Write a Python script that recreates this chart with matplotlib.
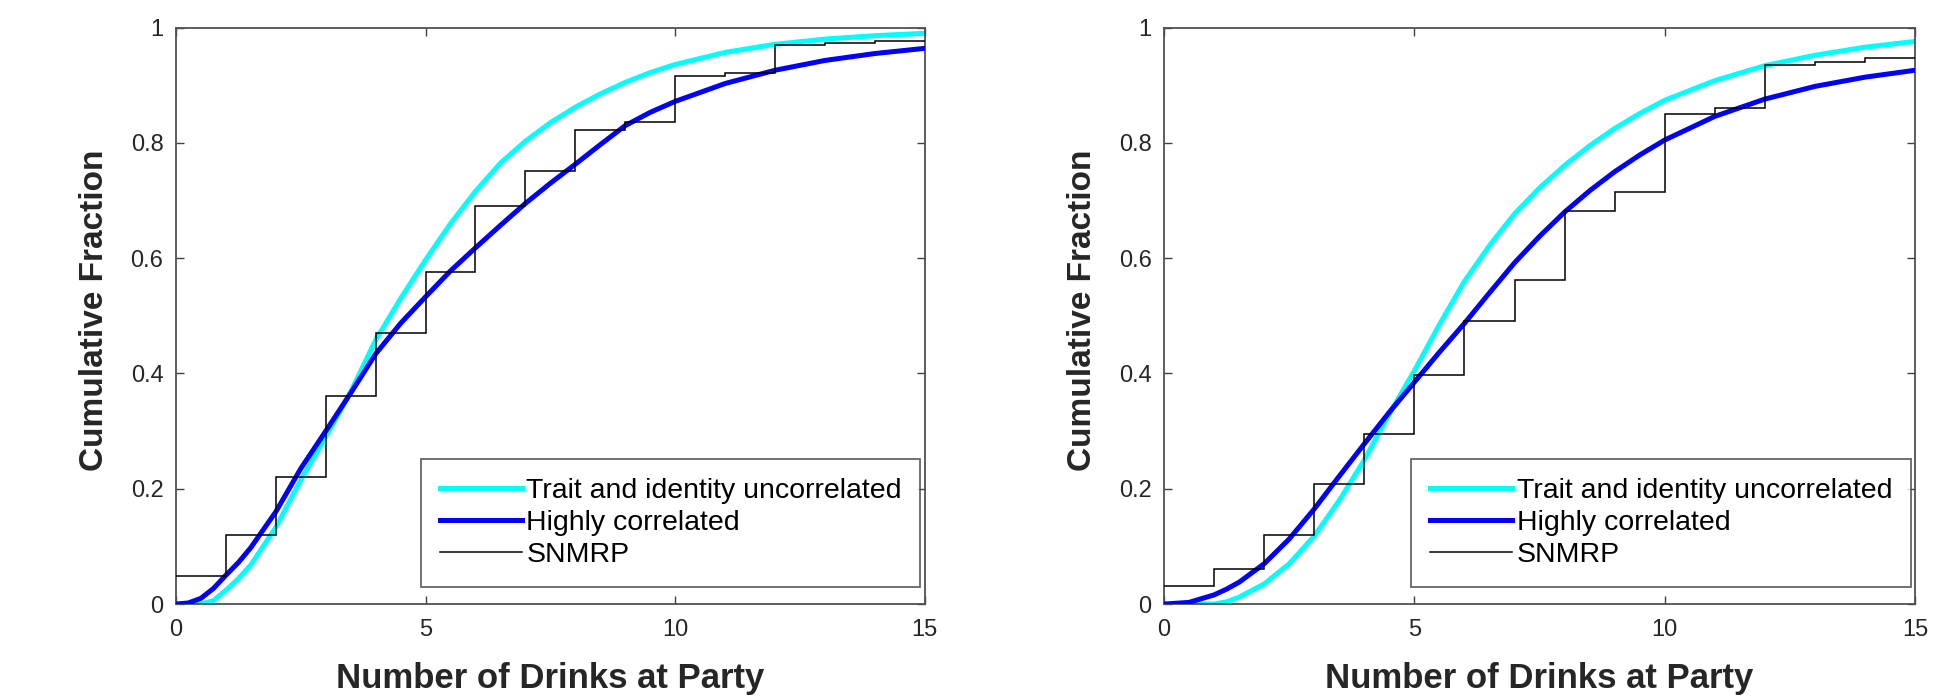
import numpy as np
import matplotlib
matplotlib.use("Agg")
import matplotlib.pyplot as plt
from matplotlib.ticker import FuncFormatter

plt.rcParams['font.family'] = ['Liberation Sans', 'DejaVu Sans']

# empirical CDF (SNMRP), one level per drink bin 0-1, 1-2, ... 14-15
bin_edges = np.arange(16)
snmrp_left = [0.048, 0.119, 0.220, 0.361, 0.471, 0.576, 0.691, 0.751,
              0.822, 0.837, 0.916, 0.922, 0.970, 0.974, 0.976]
snmrp_right = [0.032, 0.061, 0.119, 0.208, 0.295, 0.397, 0.491, 0.562,
               0.682, 0.715, 0.850, 0.861, 0.935, 0.941, 0.947]

# model curves
x_left = [0, 0.25, 0.5, 0.75, 1, 1.25, 1.5, 2, 2.5, 3, 3.5, 4, 4.5, 5, 5.5, 6,
          6.5, 7, 7.5, 8, 8.5, 9, 9.5, 10, 11, 12, 13, 14, 15]
uncorr_left = [0, 0, 0, 0.006, 0.024, 0.044, 0.068, 0.133, 0.215, 0.290,
               0.368, 0.458, 0.530, 0.597, 0.660, 0.716, 0.765, 0.803, 0.835,
               0.862, 0.885, 0.905, 0.922, 0.936, 0.957, 0.971, 0.980, 0.986,
               0.990]
corr_left = [0, 0.002, 0.010, 0.027, 0.050, 0.072, 0.098, 0.160, 0.235, 0.300,
             0.366, 0.434, 0.487, 0.533, 0.578, 0.618, 0.657, 0.695, 0.730,
             0.763, 0.797, 0.830, 0.853, 0.872, 0.903, 0.926, 0.943, 0.955,
             0.964]

x_right = [0, 0.5, 1, 1.25, 1.5, 2, 2.5, 3, 3.5, 4, 4.5, 5, 5.5, 6, 6.5, 7,
           7.5, 8, 8.5, 9, 9.5, 10, 11, 12, 13, 14, 15]
uncorr_right = [0, 0, 0, 0.004, 0.012, 0.035, 0.070, 0.118, 0.180, 0.250,
                0.330, 0.405, 0.485, 0.560, 0.622, 0.677, 0.722, 0.761, 0.795,
                0.825, 0.851, 0.874, 0.908, 0.934, 0.952, 0.966, 0.976]
corr_right = [0, 0.003, 0.016, 0.026, 0.038, 0.070, 0.113, 0.165, 0.222, 0.278,
              0.333, 0.385, 0.437, 0.487, 0.540, 0.592, 0.638, 0.680, 0.717,
              0.750, 0.779, 0.805, 0.846, 0.876, 0.898, 0.914, 0.926]

labels = ['Trait and identity uncorrelated', 'Highly correlated', 'SNMRP']
x_ticks = [0, 5, 10, 15]
y_ticks = [0, 0.2, 0.4, 0.6, 0.8, 1]

fig = plt.figure(figsize=(19.59, 7.0), dpi=100)
ax1 = fig.add_axes([0.0898, 0.137, 0.3823, 0.8236])
ax2 = fig.add_axes([0.5942, 0.137, 0.3834, 0.8236])

panels = [(ax1, x_left, uncorr_left, corr_left, snmrp_left),
          (ax2, x_right, uncorr_right, corr_right, snmrp_right)]

for ax, xs, unc, cor, emp in panels:
    ax.plot(xs, unc, color='#00ffff', lw=3.6, label=labels[0], zorder=2,
            solid_joinstyle='round')
    ax.plot(xs, cor, color='#0000ff', lw=3.6, label=labels[1], zorder=3,
            solid_joinstyle='round')
    ax.stairs(emp, bin_edges, baseline=None, color='black', lw=1.1,
              label=labels[2], zorder=4)
    ax.set_xlim(0, 15)
    ax.set_ylim(0, 1)
    ax.set_xticks(x_ticks)
    ax.set_yticks(y_ticks)
    ax.yaxis.set_major_formatter(FuncFormatter(lambda v, p: '%g' % v))
    ax.tick_params(direction='in', length=6, width=1.0, color='#404040',
                   top=True, right=True, labelsize=17, labelcolor='#262626')
    ax.tick_params(axis='x', pad=11)
    ax.tick_params(axis='y', pad=9)
    for sp in ax.spines.values():
        sp.set_color('#505050')
        sp.set_linewidth(1.3)
    ax.set_xlabel('Number of Drinks at Party', fontsize=25, fontweight='bold',
                  color='#262626')
    ax.set_ylabel('Cumulative Fraction', fontsize=24, fontweight='bold',
                  color='#262626')
    ax.xaxis.set_label_coords(0.5, -0.1)
    ax.yaxis.set_label_coords(-0.088, 0.51)
    leg = ax.legend(loc='lower right', bbox_to_anchor=(0.994, 0.03),
                    borderaxespad=0, fontsize=20.5, frameon=True, fancybox=False,
                    handlelength=2.9, handletextpad=0.15, labelspacing=0.22,
                    borderpad=0.65)
    leg.get_frame().set_edgecolor('#404040')
    leg.get_frame().set_linewidth(1.3)

fig.savefig('out.png', dpi=100)
